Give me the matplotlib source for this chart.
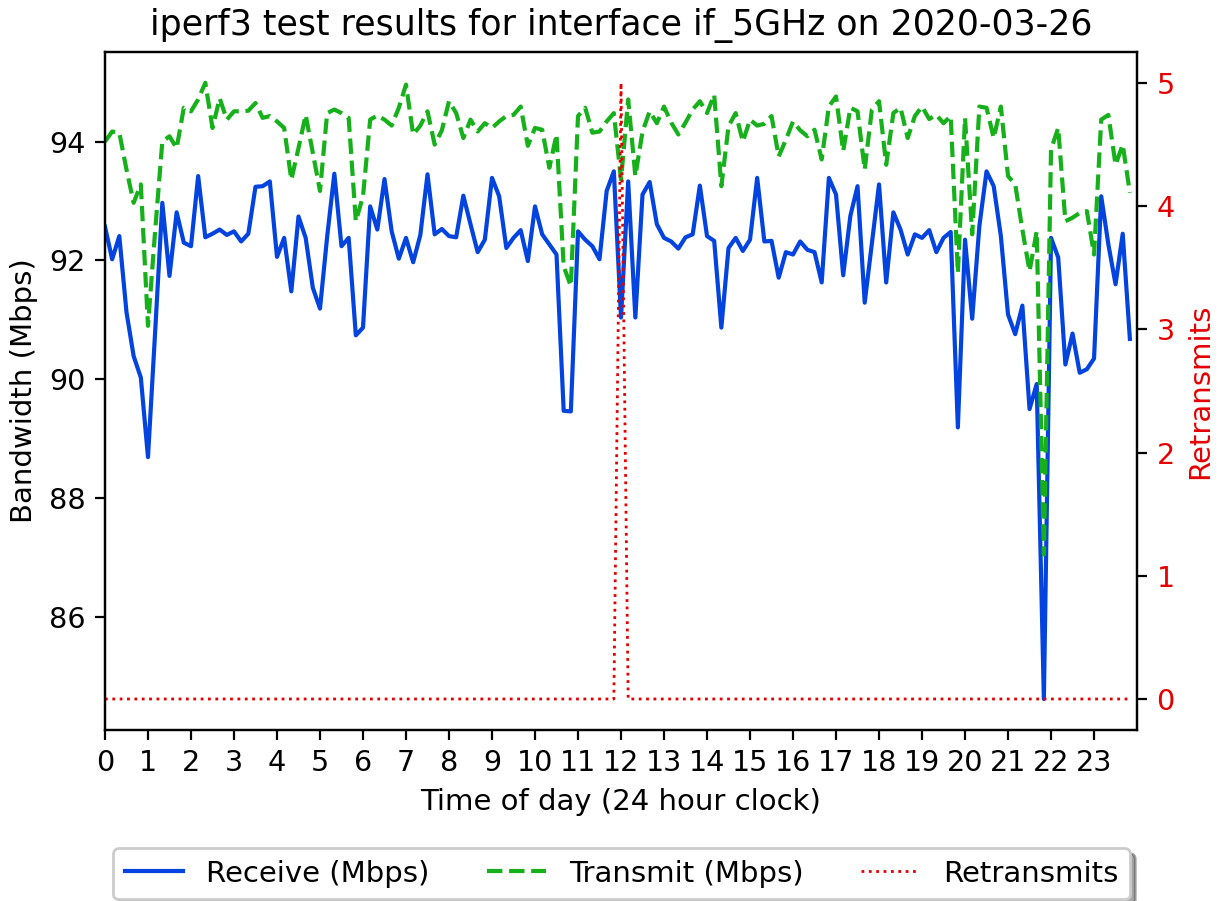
import numpy as np
import matplotlib
matplotlib.use("Agg")
import matplotlib.pyplot as plt

receive = [92.57, 92.02, 92.41, 91.13, 90.39, 90.03, 88.69, 90.80, 92.97, 91.74,
           92.81, 92.30, 92.24, 93.42, 92.39, 92.45, 92.52, 92.43, 92.49, 92.32,
           92.45, 93.24, 93.25, 93.33, 92.06, 92.38, 91.48, 92.74, 92.38, 91.54,
           91.19, 92.40, 93.46, 92.24, 92.38, 90.74, 90.87, 92.91, 92.52, 93.37,
           92.49, 92.03, 92.38, 91.97, 92.43, 93.45, 92.44, 92.53, 92.41, 92.39,
           93.09, 92.61, 92.14, 92.35, 93.39, 93.08, 92.21, 92.38, 92.51, 91.99,
           92.91, 92.44, 92.27, 92.10, 89.47, 89.46, 92.49, 92.35, 92.24, 92.02,
           93.17, 93.50, 91.04, 93.33, 91.04, 93.11, 93.32, 92.61, 92.38, 92.32,
           92.20, 92.39, 92.44, 93.26, 92.41, 92.33, 90.87, 92.21, 92.38, 92.16,
           92.35, 93.39, 92.32, 92.33, 91.71, 92.14, 92.10, 92.32, 92.18, 92.14,
           91.63, 93.39, 93.11, 91.75, 92.75, 93.25, 91.29, 92.29, 93.28, 91.63,
           92.81, 92.52, 92.10, 92.44, 92.38, 92.51, 92.14, 92.38, 92.48, 89.19,
           92.35, 91.02, 92.58, 93.50, 93.25, 92.41, 91.09, 90.76, 91.24, 89.50,
           89.92, 84.62, 92.38, 92.05, 90.25, 90.77, 90.11, 90.17, 90.35, 93.08,
           92.27, 91.60, 92.45, 90.68]

transmit = [94.00, 94.17, 94.15, 93.53, 92.97, 93.28, 90.90, 92.50, 94.00, 94.09,
            93.89, 94.57, 94.51, 94.71, 94.99, 94.23, 94.73, 94.37, 94.51, 94.51,
            94.52, 94.65, 94.40, 94.43, 94.34, 94.23, 93.36, 93.89, 94.45, 93.81,
            93.17, 94.48, 94.54, 94.48, 94.40, 92.66, 93.08, 94.37, 94.44, 94.37,
            94.27, 94.57, 94.96, 94.12, 94.27, 94.51, 93.95, 94.19, 94.68, 94.48,
            94.06, 94.37, 94.17, 94.31, 94.23, 94.34, 94.43, 94.45, 94.59, 93.93,
            94.23, 94.20, 93.56, 94.12, 91.90, 91.57, 94.43, 94.57, 94.15, 94.17,
            94.34, 94.48, 93.36, 94.71, 93.42, 94.17, 94.51, 94.31, 94.59, 94.32,
            94.12, 94.32, 94.54, 94.68, 94.48, 94.79, 93.25, 94.26, 94.48, 94.00,
            94.37, 94.27, 94.30, 94.43, 93.75, 94.03, 94.34, 94.19, 94.09, 94.20,
            93.70, 94.59, 94.76, 93.84, 94.57, 94.51, 93.53, 94.54, 94.68, 93.61,
            94.48, 94.57, 94.06, 94.43, 94.59, 94.38, 94.45, 94.31, 94.43, 91.79,
            94.40, 92.44, 94.59, 94.57, 94.06, 94.59, 93.42, 93.28, 92.52, 91.82,
            92.49, 87.05, 93.87, 94.23, 92.66, 92.72, 92.80, 92.83, 92.10, 94.37,
            94.45, 93.61, 93.95, 93.14]

retransmits = [0] * 72 + [5] + [0] * 71

hours = [i / 6.0 for i in range(len(receive))]
hour_ticks = list(range(24))

title = "iperf3 test results for interface if_5GHz on 2020-03-26"

plt.rcParams["font.size"] = 10.5
plt.rcParams["xtick.labelsize"] = 10.3
plt.rcParams["ytick.labelsize"] = 10.3

fig = plt.figure(figsize=(6.125, 4.505), dpi=200)
ax = fig.add_axes([0.0857, 0.190, 0.8425, 0.7523])
ax2 = ax.twinx()

l1, = ax.plot(hours, receive, color="#0343df", lw=1.5, label="Receive (Mbps)")
l2, = ax.plot(hours, transmit, color="#15b01a", lw=1.5, ls="--", label="Transmit (Mbps)")
l3, = ax2.plot(hours, retransmits, color="#e50000", lw=1.0, ls=":", label="Retransmits")

ax.set_xlim(0, 24)
ax.set_xticks(hour_ticks)
ax.set_xlabel("Time of day (24 hour clock)")
ax.set_ylabel("Bandwidth (Mbps)")
ax.set_title(title, fontsize=12.5)

ax2.set_ylabel("Retransmits", color="#e50000")
ax2.tick_params(axis="y", labelcolor="#e50000")

fig.legend(handles=[l1, l2, l3], loc="upper center", ncol=3,
           bbox_to_anchor=(0.0922, 0.0, 0.830, 0.0588), mode="expand",
           shadow=True, fancybox=True, borderaxespad=0.0)

fig.savefig("out.png", dpi=200)
